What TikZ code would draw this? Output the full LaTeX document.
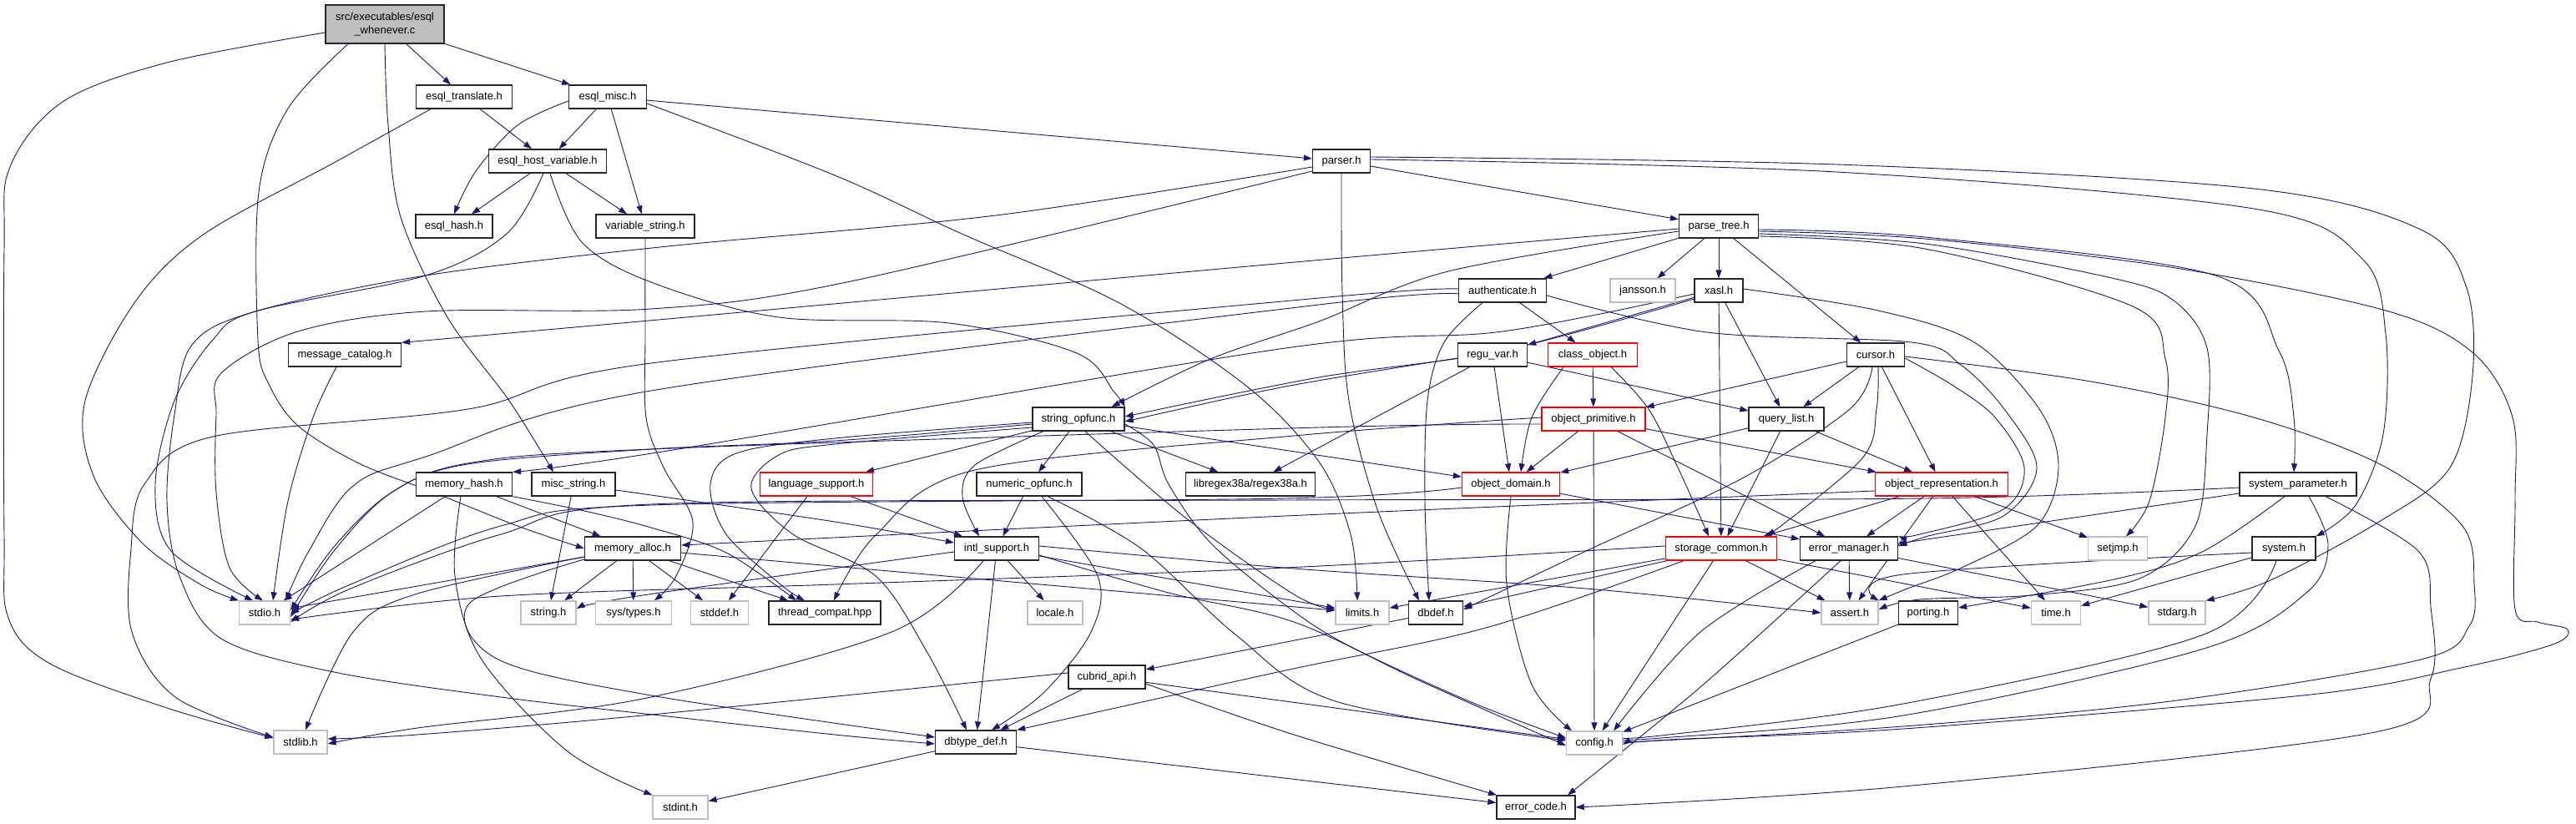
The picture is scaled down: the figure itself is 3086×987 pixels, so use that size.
\documentclass[tikz,border=0pt]{standalone}
\usepackage{fontspec}
\newfontfamily\nfont{Liberation Sans}
\usetikzlibrary{arrows.meta}
\definecolor{edgec}{HTML}{191970}
\definecolor{grayb}{HTML}{BFBFBF}
\definecolor{redb}{HTML}{FF0000}
\pgfdeclarelayer{bg}
\pgfdeclarelayer{paper}
\pgfsetlayers{paper,bg,main}
\tikzset{
  base/.style={rectangle, fill=white, minimum height=28pt, inner sep=0pt, line width=1.3pt,
    font=\nfont\fontsize{13}{16}\selectfont},
  fbox/.style={base, draw=black!85},
  gbox/.style={base, draw=grayb},
  rbox/.style={base, draw=redb},
  lnk/.style={draw=edgec, line width=0.9pt, -{Triangle[length=10pt,width=7pt]}},
  sm/.style={smooth, tension=0.55}
}
\begin{document}
\begin{tikzpicture}[x=1pt,y=-1pt]
\begin{pgfonlayer}{paper}
\fill[white] (0,0) rectangle (3086,987);
\end{pgfonlayer}
\useasboundingbox (0,0) rectangle (3086,987);
% nodes
\node[fbox, fill=grayb, minimum width=142pt, minimum height=46pt, align=center] (root) at (461,29) {src/executables/esql\\\_whenever.c};
\node[fbox, minimum width=115pt] (etr) at (556,116) {esql\_translate.h};
\node[fbox, minimum width=93pt] (emi) at (728,116) {esql\_misc.h};
\node[fbox, minimum width=141pt] (ehv) at (656,193) {esql\_host\_variable.h};
\node[fbox, minimum width=92pt] (ehs) at (544,271) {esql\_hash.h};
\node[fbox, minimum width=118pt] (vst) at (773,271) {variable\_string.h};
\node[fbox, minimum width=69pt] (par) at (1607,193) {parser.h};
\node[fbox, minimum width=95pt] (ptr) at (2059,271) {parse\_tree.h};
\node[fbox, minimum width=105pt] (aut) at (1800,348) {authenticate.h};
\node[gbox, minimum width=78pt] (jan) at (1968,348) {jansson.h};
\node[fbox, minimum width=58pt] (xas) at (2059,348) {xasl.h};
\node[fbox, minimum width=135pt] (mcat) at (413,425) {message\_catalog.h};
\node[fbox, minimum width=83pt] (reg) at (1788,425) {regu\_var.h};
\node[rbox, minimum width=107pt] (cob) at (1908,425) {class\_object.h};
\node[fbox, minimum width=69pt] (cur) at (2247,425) {cursor.h};
\node[fbox, minimum width=110pt] (sop) at (1292,502) {string\_opfunc.h};
\node[rbox, minimum width=124pt] (opr) at (1909,502) {object\_primitive.h};
\node[fbox, minimum width=90pt] (qli) at (2140,502) {query\_list.h};
\node[fbox, minimum width=115pt] (mha) at (556,580) {memory\_hash.h};
\node[fbox, minimum width=100pt] (mst) at (687,580) {misc\_string.h};
\node[rbox, minimum width=135pt] (lsu) at (978,580) {language\_support.h};
\node[fbox, minimum width=126pt] (nop) at (1233,580) {numeric\_opfunc.h};
\node[fbox, minimum width=155pt] (rgx) at (1498,580) {libregex38a/regex38a.h};
\node[rbox, minimum width=117pt] (odo) at (1810,580) {object\_domain.h};
\node[rbox, minimum width=159pt] (ore) at (2326,580) {object\_representation.h};
\node[fbox, minimum width=140pt] (spa) at (2753,580) {system\_parameter.h};
\node[fbox, minimum width=115pt] (mal) at (758,657) {memory\_alloc.h};
\node[fbox, minimum width=101pt] (isu) at (1194,657) {intl\_support.h};
\node[rbox, minimum width=133pt] (sco) at (2062,657) {storage\_common.h};
\node[fbox, minimum width=117pt] (ema) at (2215,657) {error\_manager.h};
\node[gbox, minimum width=71pt] (sjm) at (2537,657) {setjmp.h};
\node[fbox, minimum width=76pt] (syst) at (2736,657) {system.h};
\node[gbox, minimum width=61pt] (sio) at (317,734) {stdio.h};
\node[gbox, minimum width=66pt] (sng) at (657,734) {string.h};
\node[gbox, minimum width=91pt] (sty) at (759,734) {sys/types.h};
\node[gbox, minimum width=69pt] (sdf) at (862,734) {stddef.h};
\node[fbox, minimum width=134pt] (tco) at (988,734) {thread\_compat.hpp};
\node[gbox, minimum width=66pt] (loc) at (1264,734) {locale.h};
\node[gbox, minimum width=64pt] (lim) at (1632,734) {limits.h};
\node[fbox, minimum width=65pt] (dbd) at (1720,734) {dbdef.h};
\node[gbox, minimum width=68pt] (ast) at (2216,734) {assert.h};
\node[fbox, minimum width=71pt] (por) at (2310,734) {porting.h};
\node[gbox, minimum width=59pt] (tim) at (2463,734) {time.h};
\node[gbox, minimum width=68pt] (sag) at (2608,734) {stdarg.h};
\node[fbox, minimum width=92pt] (cap) at (1326,811) {cubrid\_api.h};
\node[gbox, minimum width=64pt] (slb) at (360,889) {stdlib.h};
\node[fbox, minimum width=97pt] (dtd) at (1169,889) {dbtype\_def.h};
\node[gbox, minimum width=67pt] (cfg) at (1910,890) {config.h};
\node[gbox, minimum width=66pt] (sin) at (815,967) {stdint.h};
\node[fbox, minimum width=94pt] (eco) at (1840,967) {error\_code.h};
% edges
\begin{pgfonlayer}{bg}
% root
\draw[lnk] (root) -- (etr);
\draw[lnk] (root) -- (emi);
\draw[lnk] plot[sm] coordinates {([yshift=-10pt]root.west) (200,75) (75,122) (12,200) (5,300) (5,640) (10,740) (60,795) (200,848) ([yshift=5pt]slb.west)};
\draw[lnk] plot[sm] coordinates {([xshift=-44pt]root.south) (345,130) (310,230) (309,407) (322,460) (357,510) (430,555) (520,590) (620,630) (mal.west)};
\draw[lnk] plot[sm] coordinates {(root.south) (465,150) (480,260) (536,380) (610,480) ([xshift=-24pt]mst.north)};
% esql_translate
\draw[lnk] (etr) -- (ehv);
\draw[lnk] plot[sm] coordinates {([xshift=-40pt]etr.south) (400,195) (245,280) (163,360) (102,480) (112,570) (170,650) (240,700) (sio.north west)};
% esql_misc
\draw[lnk] (emi) -- (ehv);
\draw[lnk] plot[sm] coordinates {([yshift=-5pt]emi.west) (620,150) (570,205) (ehs.north)};
\draw[lnk] (emi) -- (vst);
\draw[lnk] (emi) -- (par);
\draw[lnk] plot[sm] coordinates {([yshift=-8pt]emi.east) (1000,210) (1152,280) (1341,363) (1494,463) (1580,553) (1618,640) ([xshift=-6pt]lim.north)};
% esql_host_variable
\draw[lnk] (ehv) -- (ehs);
\draw[lnk] (ehv) -- (vst);
\draw[lnk] plot[sm] coordinates {([xshift=-5pt]ehv.south) (607,280) (510,330) (306,373) (255,407) (209,480) (186,580) (205,660) ([xshift=-14pt]sio.north)};
\draw[lnk] plot[sm] coordinates {([xshift=3pt]ehv.south) (697,290) (780,338) (933,380) (1137,387) (1290,423) (1335,470) (sop.north east)};
% variable_string
\draw[lnk] plot[sm] coordinates {(vst.south) (773,400) (774,500) (795,560) (830,625) (810,690) ([xshift=25pt]sty.north)};
% message_catalog
\draw[lnk] plot[sm] coordinates {([xshift=-10pt]mcat.south) (375,500) (345,600) ([xshift=10pt]sio.north)};
% parser
\draw[lnk] (par) -- (ptr);
\draw[lnk] plot[sm] coordinates {([yshift=-7pt]par.west) (1193,258) (800,295) (510,330) (306,373) (230,413) (209,497) (200,600) (215,690) (265,765) (400,805) (600,835) (800,858) (1000,880) ([yshift=-2pt]dtd.west)};
\draw[lnk] plot[sm] coordinates {([yshift=-12pt]par.west) (1019,337) (780,370) (510,373) (357,397) (265,447) (259,497) (259,590) (275,680) ([xshift=-2pt]sio.north)};
\draw[lnk] plot[sm] coordinates {(par.south) (1608,350) (1616,480) (1650,610) ([xshift=-20pt]dbd.north)};
\draw[lnk] plot[sm] coordinates {([yshift=2pt]par.east) (2200,206) (2700,250) (2830,310) (2858,400) (2855,520) (2822,605) (syst.north east)};
\draw[lnk] plot[sm] coordinates {([yshift=5pt]par.east) (2200,197) (2700,226) (2900,275) (2955,345) (2962,450) (2935,560) (2850,625) (2720,695) (sag.north east)};
% parse_tree
\draw[lnk] (ptr) -- (aut);
\draw[lnk] (ptr) -- (jan);
\draw[lnk] (ptr) -- (xas);
\draw[lnk] (ptr) -- (cur);
\draw[lnk] plot[sm] coordinates {([yshift=-6pt]ptr.west) (1735,325) (1580,385) (1450,430) ([xshift=-16pt]sop.north east)};
\draw[lnk] plot[sm] coordinates {([yshift=-3pt]ptr.west) (1540,315) (800,382) (mcat.north east)};
\draw[lnk] plot[sm] coordinates {([yshift=-4pt]ptr.east) (2306,284) (2654,330) (2730,420) (2748,500) ([xshift=-5pt]spa.north)};
\draw[lnk] plot[sm] coordinates {([yshift=-12pt]ptr.east) (2306,298) (2555,367) (2594,430) (2594,500) (2575,600) ([xshift=10pt]sjm.north)};
\draw[lnk] plot[sm] coordinates {([yshift=-9pt]ptr.east) (2306,292) (2530,333) (2604,360) (2644,417) (2644,520) (2630,630) (2563,693) (2434,713) (2300,718) ([yshift=4pt]ast.east)};
\draw[lnk] plot[sm] coordinates {([yshift=-6pt]ptr.east) (2306,286) (2600,320) (2858,372) (2963,423) (3010,500) (3013,600) (3013,730) (3040,745) (3076,754) (3058,772) (2948,800) (2768,832) (2280,873) (2000,886) ([yshift=-2pt]cfg.east)};
% authenticate
\draw[lnk] (aut) -- (cob);
\draw[lnk] plot[sm] coordinates {([xshift=-24pt]aut.south) (1730,410) (1710,480) (1707,600) ([xshift=-8pt]dbd.north)};
\draw[lnk] plot[sm] coordinates {([yshift=-6pt]aut.east) (2045,398) (2290,410) (2349,437) (2401,490) (2440,560) (2400,618) (2310,642) ([yshift=3pt]ema.east)};
\draw[lnk] plot[sm] coordinates {([yshift=-4pt]aut.west) (1580,365) (780,468) (510,547) (423,582) (370,660) ([xshift=-6pt]sio.north east)};
\draw[lnk] plot[sm] coordinates {([yshift=2pt]aut.west) (1580,357) (780,435) (561,490) (255,523) (173,580) (157,657) (158,757) (210,835) (slb.170)};
% xasl
\draw[lnk] (xas) -- (reg);
\draw[lnk] (xas) -- (sco);
\draw[lnk] (xas) -- (qli);
\draw[lnk] plot[sm] coordinates {([yshift=-10pt]xas.west) (1800,420) (1580,452) ([yshift=3pt]sop.east)};
\draw[lnk] plot[sm] coordinates {([yshift=-4pt]xas.west) (1800,397) (1540,417) (800,540) (mha.north east)};
\draw[lnk] plot[sm] coordinates {([yshift=2pt]xas.east) (2250,372) (2365,410) (2443,490) (2466,560) (2440,630) (2350,680) (2285,705) (ast.north east)};
% regu_var
\draw[lnk] plot[sm] coordinates {([yshift=-4pt]reg.west) (1540,463) ([yshift=-3pt]sop.east)};
\draw[lnk] (reg) -- (odo);
\draw[lnk] (reg) -- (rgx);
\draw[lnk] (reg) -- (qli);
% class_object
\draw[lnk] (cob) -- (opr);
\draw[lnk] plot[sm] coordinates {([xshift=-35pt]cob.south) (1835,500) ([xshift=12pt]odo.north)};
\draw[lnk] plot[sm] coordinates {([xshift=22pt]cob.south) (1975,490) (2010,560) ([xshift=-15pt]sco.north)};
% cursor
\draw[lnk] (cur) -- (opr);
\draw[lnk] (cur) -- (qli);
\draw[lnk] (cur) -- (ore);
\draw[lnk] plot[sm] coordinates {([xshift=3pt]cur.south) (2248,490) (2230,550) ([xshift=55pt]sco.north)};
\draw[lnk] plot[sm] coordinates {([xshift=-4pt]cur.south) (2216,490) (2087,573) (1900,660) ([yshift=4pt]dbd.east)};
\draw[lnk] plot[sm] coordinates {([yshift=-4pt]cur.east) (2340,462) (2390,500) (2425,560) (2400,610) (2300,640) (ema.north east)};
\draw[lnk] plot[sm] coordinates {([yshift=-2pt]cur.east) (2505,457) (2700,500) (2853,557) (2950,630) (2964,700) (2958,750) (2900,790) (2600,840) (2280,870) (1990,887) ([yshift=2pt]cfg.east)};
% string_opfunc
\draw[lnk] (sop) -- (lsu);
\draw[lnk] (sop) -- (nop);
\draw[lnk] (sop) -- (rgx);
\draw[lnk] (sop) -- (odo);
\draw[lnk] plot[sm] coordinates {([xshift=-42pt]sop.south) (1168,557) (1153,595) ([xshift=-21pt]isu.north)};
\draw[lnk] plot[sm] coordinates {([yshift=-6pt]sop.west) (1000,528) (780,538) (560,556) (469,590) (400,660) ([yshift=-5pt]sio.east)};
\draw[lnk] plot[sm] coordinates {([yshift=-4pt]sop.west) (1000,525) (882,543) (851,580) (870,640) (935,700) ([xshift=-24pt]tco.north)};
\draw[lnk] plot[sm] coordinates {([yshift=-10pt]sop.west) (1000,532) (933,545) (900,585) (950,640) (1049,690) (1110,780) ([xshift=-11pt]dtd.north)};
\draw[lnk] plot[sm] coordinates {([yshift=-6pt]sop.east) (1382,533) (1400,580) (1450,650) (1540,725) (1615,773) (1760,840) ([yshift=6pt]cfg.west)};
\draw[lnk] plot[sm] coordinates {([xshift=8pt]sop.south) (1420,620) (1550,712) ([yshift=4pt]lim.west)};
% language_support / numeric_opfunc
\draw[lnk] (lsu) -- (isu);
\draw[lnk] (lsu) -- (sdf);
\draw[lnk] (nop) -- (isu);
\draw[lnk] plot[sm] coordinates {([xshift=15pt]nop.south) (1315,690) (1307,757) (1250,830) ([xshift=19pt]dtd.north)};
\draw[lnk] plot[sm] coordinates {([xshift=22pt]nop.south) (1367,657) (1480,760) (1600,840) ([yshift=3pt]cfg.west)};
% object_domain
\draw[lnk] plot[sm] coordinates {(odo.south) (1805,700) (1835,820) ([xshift=-27pt]cfg.north)};
\draw[lnk] (odo) -- (ema);
\draw[lnk] plot[sm] coordinates {([yshift=-4pt]odo.west) (1540,597) (780,605) (600,630) (420,700) ([yshift=-1pt]sio.east)};
% object_primitive
\draw[lnk] (opr) -- (odo);
\draw[lnk] (opr) -- (cfg);
\draw[lnk] (opr) -- (ema);
\draw[lnk] (opr) -- (ore);
\draw[lnk] plot[sm] coordinates {([yshift=2pt]opr.west) (1550,522) (1168,563) (1050,640) ([xshift=11pt]tco.north)};
\draw[lnk] plot[sm] coordinates {([yshift=-6pt]opr.west) (1580,512) (780,538) (560,555) (469,590) (400,655) ([yshift=3pt]sio.east)};
% query_list
\draw[lnk] (qli) -- (odo);
\draw[lnk] (qli) -- (sco);
\draw[lnk] (qli) -- (ore);
% object_representation
\draw[lnk] (ore) -- (sco);
\draw[lnk] (ore) -- (ema);
\draw[lnk] (ore) -- (ast);
\draw[lnk] (ore) -- (tim);
\draw[lnk] (ore) -- (sjm);
\draw[lnk] plot[sm] coordinates {([yshift=-8pt]ore.west) (1540,618) ([yshift=4pt]mal.east)};
% memory_alloc
\draw[lnk] (mal) -- (sng);
\draw[lnk] (mal) -- (sty);
\draw[lnk] (mal) -- (sdf);
\draw[lnk] (mal) -- (tco);
\draw[lnk] (mal) -- (sio);
\draw[lnk] plot[sm] coordinates {([yshift=-10pt]mal.west) (497,712) (423,757) ([xshift=6pt]slb.north)};
\draw[lnk] plot[sm] coordinates {([yshift=-13pt]mal.west) (562,723) (597,790) (780,833) ([yshift=6pt]dtd.west)};
\draw[lnk] (mal) -- (lim);
% memory_hash / misc_string
\draw[lnk] (mha) -- (sio);
\draw[lnk] (mha) -- (mal);
\draw[lnk] plot[sm] coordinates {(mha.south east) (700,612) (780,632) (870,662) ([xshift=-34pt]tco.north)};
\draw[lnk] plot[sm] coordinates {([xshift=-4pt]mha.south) (545,690) (577,790) (680,900) (sin.north west)};
\draw[lnk] (mst) -- (sng);
\draw[lnk] plot[sm] coordinates {([yshift=-7pt]mst.east) (780,593) (1000,625) ([yshift=7pt]isu.west)};
% intl_support
\draw[lnk] (isu) -- (dtd);
\draw[lnk] (isu) -- (loc);
\draw[lnk] plot[sm] coordinates {([xshift=-16pt]isu.south) (1068,757) (770,837) (500,872) ([yshift=-2pt]slb.east)};
\draw[lnk] plot[sm] coordinates {([yshift=-8pt]isu.east) (1400,710) (1550,745) (1700,815) ([yshift=-3pt]cfg.west)};
\draw[lnk] (isu) -- (lim);
\draw[lnk] plot[sm] coordinates {([yshift=3pt]isu.east) (1550,681) (1900,705) (ast.west)};
\draw[lnk] plot[sm] coordinates {([yshift=-4pt]isu.west) (770,713) ([yshift=5pt]sng.east)};
% storage_common
\draw[lnk] plot[sm] coordinates {([yshift=3pt]sco.west) (1540,680) (1000,700) (600,714) ([yshift=-8pt]sio.east)};
\draw[lnk] (sco) -- (lim);
\draw[lnk] (sco) -- (dbd);
\draw[lnk] plot[sm] coordinates {([xshift=-45pt]sco.south) (1780,752) (1540,803) (dtd.north east)};
\draw[lnk] (sco) -- (cfg);
\draw[lnk] (sco) -- (ast);
\draw[lnk] (sco) -- (tim);
% error_manager
\draw[lnk] (ema) -- (ast);
\draw[lnk] plot[sm] coordinates {([xshift=-40pt]ema.south) (2037,757) ([xshift=23pt]cfg.north)};
\draw[lnk] plot[sm] coordinates {([xshift=-10pt]ema.south) (2037,823) ([xshift=38pt]eco.north)};
\draw[lnk] (ema) -- (sag);
% system_parameter
\draw[lnk] plot[sm] coordinates {([yshift=-4pt]spa.west) (2306,597) (1540,599) (780,604) (600,640) (420,705) ([yshift=-11pt]sio.east)};
\draw[lnk] ([yshift=-11pt]spa.west) -- ([yshift=6pt]ema.east);
\draw[lnk] plot[sm] coordinates {([xshift=-16pt]spa.south) (2640,660) (2537,693) ([yshift=6pt]por.east)};
\draw[lnk] plot[sm] coordinates {([xshift=13pt]spa.south) (2789,653) (2763,710) (2640,777) (2280,857) (1990,884) ([yshift=5pt]cfg.east)};
\draw[lnk] plot[sm] coordinates {([xshift=33pt]spa.south) (2897,660) (2912,727) (2912,813) (2845,877) (2280,942) (eco.east)};
% system
\draw[lnk] (syst) -- (tim);
\draw[lnk] plot[sm] coordinates {([xshift=-9pt]syst.south) (2640,760) (2280,843) (1990,881) ([yshift=8pt]cfg.east)};
\draw[lnk] plot[sm] coordinates {([yshift=-5pt]syst.west) (2280,688) (ast.north east)};
% misc
\draw[lnk] (por) -- (cfg);
\draw[lnk] (cap) -- (dtd);
\draw[lnk] (cap) -- (cfg);
\draw[lnk] plot[sm] coordinates {([yshift=-8pt]cap.east) (1550,880) ([xshift=-47pt]eco.north)};
\draw[lnk] plot[sm] coordinates {([yshift=5pt]cap.west) (770,857) (500,880) ([yshift=4pt]slb.east)};
\draw[lnk] (dtd) -- (sin);
\draw[lnk] (dtd) -- (eco);
\draw[lnk] (dbd) -- (cap);
\end{pgfonlayer}
\end{tikzpicture}
\end{document}
